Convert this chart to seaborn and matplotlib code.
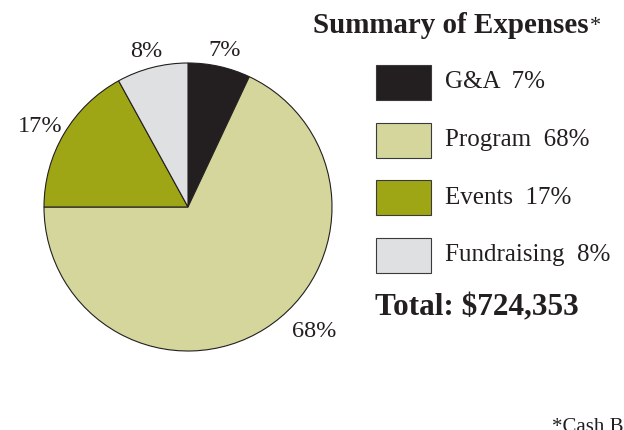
import matplotlib.pyplot as plt
import matplotlib.patches as mpatches
import numpy as np
import seaborn as sns

# expense categories, clockwise from the top
categories = ['G&A', 'Program', 'Events', 'Fundraising']
shares = [7, 68, 17, 8]
colors = ['#231f20', '#d4d69c', '#9fa616', '#dfe0e2']
total_label = 'Total: $724,353'

sns.set_theme(style="white")
plt.rcParams['font.family'] = ['Liberation Serif', 'DejaVu Serif']

fig = plt.figure(figsize=(6.24, 4.30), dpi=100)

# pie axes (box in pixel units converted to figure fraction)
W, H = 624, 430
cx, cy, r = 188, 207, 144
ax = fig.add_axes([(cx - r) / W, (H - cy - r) / H, 2 * r / W, 2 * r / H])
wedges, _ = ax.pie(shares, colors=colors, startangle=90, counterclock=False,
                   wedgeprops=dict(edgecolor='#231f20', linewidth=0.8))
ax.set_xlim(-1, 1)
ax.set_ylim(-1, 1)
ax.set_aspect('equal')
ax.axis('off')

# percentage labels outside the wedges
for i, w in enumerate(wedges):
    ang = (w.theta1 + w.theta2) / 2
    dist = 1.16
    if categories[i] == 'Program':
        ang = -43
        dist = 1.2
    if categories[i] == 'Events':
        dist = 1.19
    x = dist * np.cos(np.radians(ang))
    y = dist * np.sin(np.radians(ang)) - 0.045
    ax.text(x, y, f'{shares[i]}%', ha='center', va='center', fontsize=17.5,
            color='#231f20', clip_on=False)

# overlay axes in pixel coordinates for the legend block
lx = fig.add_axes([0, 0, 1, 1])
lx.set_xlim(0, W)
lx.set_ylim(H, 0)
lx.axis('off')

lx.text(589, 33, 'Summary of Expenses', ha='right', va='baseline',
        fontsize=20.9, fontweight='bold', color='#231f20')
lx.text(590, 31, '*', ha='left', va='baseline', fontsize=16, color='#231f20')

for i, cat in enumerate(categories):
    y0 = 65 + i * 57.5
    lx.add_patch(mpatches.Rectangle((376, y0), 55, 35, facecolor=colors[i],
                                    edgecolor='#3a3a3a', linewidth=0.8))
    lx.text(445, y0 + 17.5, f'{cat}  {shares[i]}%', ha='left', va='center',
            fontsize=18, color='#231f20')

lx.text(375, 315, total_label, ha='left', va='baseline', fontsize=22.5,
        fontweight='bold', color='#231f20')

lx.text(552, 418, '*Cash Basis', ha='left', va='top', fontsize=15,
        color='#231f20', clip_on=False)

plt.savefig('out.png', dpi=100)
